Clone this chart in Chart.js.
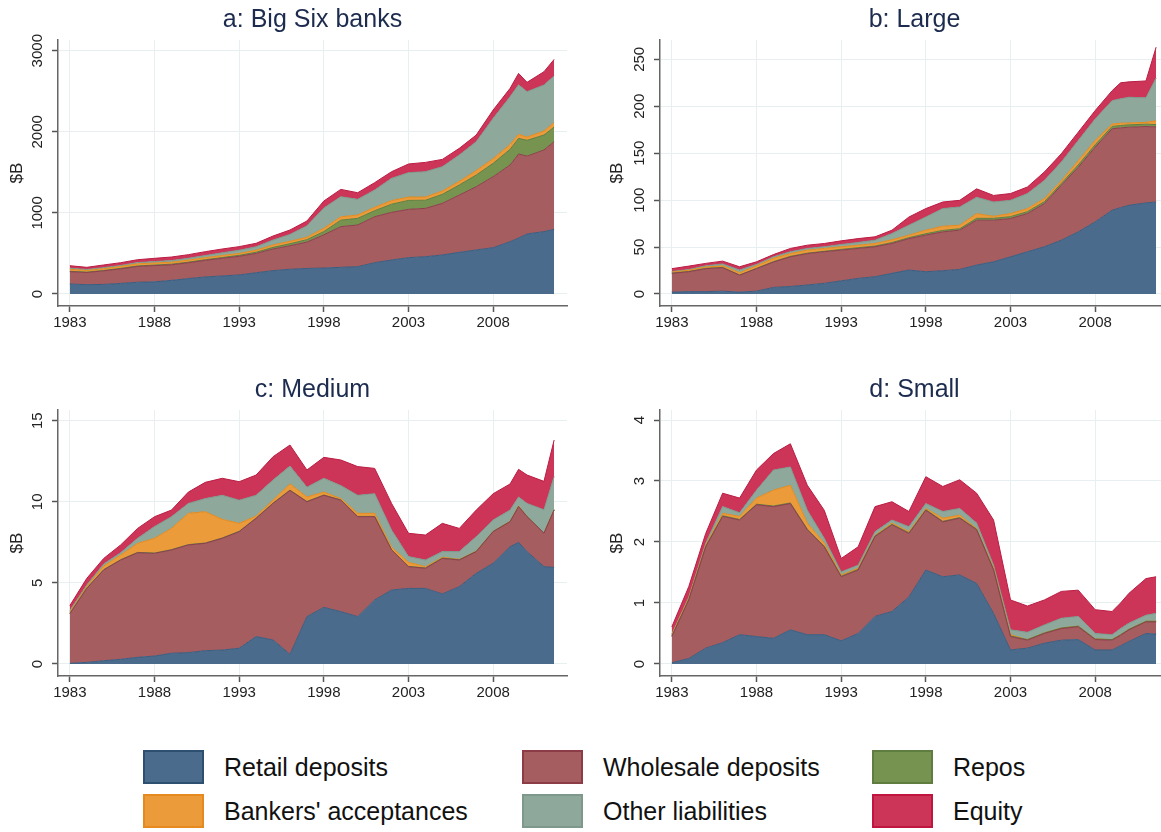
<!DOCTYPE html>
<html><head><meta charset="utf-8">
<script src="https://cdn.jsdelivr.net/npm/chart.js@4"></script>
<style>
html,body{margin:0;padding:0;background:#fff;overflow:hidden;width:1161px;height:832px;position:relative;}
canvas.panel{position:absolute;}
.item{position:absolute;display:flex;align-items:center;font-family:"Liberation Sans",Arial,sans-serif;font-size:25px;color:#111;white-space:nowrap;}
.sw{width:57px;height:30px;border:2px solid;margin-right:20px;}
</style></head>
<body>
<canvas id="pa" class="panel" width="580" height="340" style="left:0;top:0"></canvas>
<canvas id="pb" class="panel" width="600" height="340" style="left:580px;top:0"></canvas>
<canvas id="pc" class="panel" width="580" height="340" style="left:0;top:370px"></canvas>
<canvas id="pd" class="panel" width="600" height="340" style="left:580px;top:370px"></canvas>
<div id="legend"></div>
<script>
// ---- data ----
const years = [1983,1984,1985,1986,1987,1988,1989,1990,1991,1992,1993,1994,1995,1996,1997,1998,1999,2000,2001,2002,2003,2004,2005,2006,2007,2008,2009,2009.5,2010,2011,2011.6];
const xTicks = [1983,1988,1993,1998,2003,2008];
const seriesNames = ["Retail deposits","Wholesale deposits","Repos","Bankers' acceptances","Other liabilities","Equity"];

// a: Big Six banks ($B)
const aRetail    = [123,115,118,130,145,150,168,190,210,222,235,262,288,305,315,320,329,337,386,419,448,460,481,514,543,571,645,690,740,769,797];
const aWholesale = [152,150,167,180,195,200,192,195,205,218,230,238,267,290,325,410,501,514,567,588,596,596,637,707,780,876,946,1036,960,1007,1081];
const aRepos     = [5,5,5,6,6,7,8,8,8,10,12,15,20,25,30,40,80,82,74,100,110,100,111,123,144,164,193,193,195,184,180];
const aBA        = [25,20,22,24,26,25,24,25,25,25,23,25,30,30,30,40,41,41,42,45,41,40,41,45,55,58,60,50,40,50,55];
const aOther     = [13,12,13,12,16,18,20,22,27,33,40,42,60,85,140,250,249,193,213,274,301,312,300,325,356,497,589,611,560,567,575];
const aEquity    = [31,27,33,34,35,40,44,45,47,47,44,43,50,54,60,87,90,82,91,82,107,115,90,82,82,103,103,140,115,164,205];
const aYTicks = [0,1000,2000,3000];

// b: Large
const bRetail    = [2,2.5,2.5,3,2,3,7,8,9.6,11.3,14,16.6,18.4,22,25.5,23.7,24.8,26.2,30.8,34.3,39.6,45,50.3,57.3,66.2,76.8,89.2,92,94.5,97,98];
const bWholesale = [20,21.2,24.5,25,18,24,27,31.6,33.4,33.7,32.7,31.9,31.9,31.8,33.5,39,41.4,41.8,47.8,44.3,40.8,40.7,46,58.5,68.8,79.7,86.8,85,83.2,81.4,80];
const bRepos     = [0.3,0.3,0.3,0.3,0.3,0.3,0.5,0.5,0.5,0.5,0.8,0.8,0.8,1,1,1.5,1.5,1.5,2,2,2,2,2,2,2.5,2.5,2.5,2.5,2.5,2.5,2.5];
const bBA        = [1,1.3,1.5,1.7,2.4,2.7,3.5,3,3.2,3,2.8,2.7,2.7,3,2.7,3.8,4.5,3.8,5,2.2,3.3,3.3,3.3,2.7,4.5,4.5,2.5,2.5,2,2,4];
const bOther     = [0.7,0.7,1.2,2,2.8,1.5,1.6,1.9,1.8,1.8,2.4,2.9,3.5,6.6,10.6,14,18.8,19.4,17.4,15.2,14.1,16,19.4,20,21.5,23,25,26,27.4,26.1,45.5];
const bEquity    = [3,3.7,2.6,3,3.5,2.8,2.4,3.5,3.5,3.5,3.9,4.1,3.6,3.6,8.7,9,7,7.1,9,7,7.2,7,9,8.9,8.9,8.9,10.6,17,16.4,18,33];
const bYTicks = [0,50,100,150,200,250];

// c: Medium
const cRetail    = [0.04,0.1,0.2,0.29,0.41,0.49,0.66,0.7,0.82,0.86,0.97,1.69,1.48,0.6,2.92,3.49,3.23,2.92,3.95,4.56,4.66,4.66,4.32,4.77,5.59,6.21,7.23,7.5,6.93,6.0,5.96];
const cWholesale = [3.06,4.56,5.6,6.12,6.45,6.33,6.37,6.64,6.62,6.89,7.19,7.29,8.42,10.1,7.08,6.91,6.87,6.16,5.13,2.47,1.34,1.24,2.19,1.64,1.34,1.95,1.54,2.2,2.15,2.06,3.53];
const cRepos     = [0.02,0.02,0.02,0.02,0.02,0.02,0.02,0.02,0.02,0.02,0.02,0.02,0.02,0.02,0.02,0.02,0.02,0.02,0.02,0.02,0.02,0.02,0.02,0.02,0.02,0.02,0.02,0.02,0.02,0.02,0.02];
const cBA        = [0.08,0.09,0.22,0.29,0.56,0.91,1.31,1.93,1.93,1.15,0.49,0.12,0.18,0.38,0.28,0.18,0.08,0.19,0.19,0.15,0.25,0.08,0.05,0.02,0.01,0,0.01,0.03,0,0,0];
const cOther     = [0.1,0.1,0.13,0.14,0.31,0.72,0.72,0.61,0.81,1.48,1.43,1.28,1.24,1.1,0.6,0.85,0.8,1.11,1.21,1.06,0.35,0.41,0.35,0.48,0.89,0.7,0.69,0.55,0.8,1.43,2.05];
const cEquity    = [0.3,0.41,0.34,0.48,0.61,0.61,0.41,0.7,1.0,1.05,1.14,1.25,1.44,1.3,1.06,1.29,1.58,1.77,1.56,1.64,1.44,1.54,1.74,1.43,1.64,1.62,1.61,1.7,1.75,1.75,2.25];
const cYTicks = [0,5,10,15];

// d: Small
const dRetail    = [0.02,0.09,0.26,0.35,0.48,0.45,0.42,0.56,0.48,0.48,0.38,0.5,0.78,0.86,1.1,1.54,1.43,1.46,1.32,0.83,0.23,0.26,0.34,0.39,0.4,0.23,0.23,0.3,0.37,0.5,0.49];
const dWholesale = [0.43,0.96,1.66,2.07,1.88,2.16,2.16,2.07,1.72,1.44,1.05,1.04,1.31,1.42,1.04,0.98,0.9,0.93,0.88,0.71,0.22,0.13,0.16,0.19,0.21,0.17,0.16,0.17,0.19,0.19,0.2];
const dRepos     = [0.01,0.01,0.01,0.01,0.01,0.01,0.01,0.01,0.01,0.01,0.01,0.01,0.01,0.01,0.01,0.01,0.01,0.01,0.01,0.01,0.01,0.01,0.01,0.01,0.01,0.01,0.01,0.01,0.01,0.01,0.01];
const dBA        = [0.02,0.02,0.02,0.04,0.05,0.1,0.26,0.29,0.1,0.05,0.02,0.02,0.01,0.02,0.02,0.02,0.05,0.04,0.01,0.02,0.02,0,0,0,0,0,0,0,0,0,0];
const dOther     = [0.01,0.02,0.03,0.11,0.06,0.13,0.33,0.3,0.21,0.08,0.05,0.05,0.06,0.05,0.08,0.08,0.11,0.11,0.09,0.05,0.08,0.12,0.13,0.16,0.16,0.09,0.08,0.1,0.1,0.1,0.13];
const dEquity    = [0.12,0.17,0.16,0.22,0.24,0.33,0.27,0.38,0.41,0.46,0.22,0.3,0.41,0.3,0.25,0.44,0.41,0.47,0.49,0.74,0.49,0.43,0.41,0.44,0.43,0.39,0.38,0.42,0.49,0.6,0.6];
const dYTicks = [0,1,2,3,4];

// ---- styles ----
const FONT = '"Liberation Sans", Arial, sans-serif';
const fills   = ['#4a6b8c','#a55d60','#779350','#eb9b3a','#8fa89c','#cd3558'];
const lines   = ['#3b5c7e','#8c3e4b','#5f7d3e','#e08a1f','#7e978b','#b91c43'];
const legendBorders = ['#2d5070','#8b3c47','#5f7d3e','#e6891f','#7e998c','#c0153f'];

const panels = [
  {id:'pa', title:'a: Big Six banks', series:[aRetail,aWholesale,aRepos,aBA,aOther,aEquity], yTicks:aYTicks, yMin:-148, yMax:3132, padLeft:0, padRight:13},
  {id:'pb', title:'b: Large',         series:[bRetail,bWholesale,bRepos,bBA,bOther,bEquity], yTicks:bYTicks, yMin:-12.8, yMax:270.6, padLeft:20, padRight:11},
  {id:'pc', title:'c: Medium',        series:[cRetail,cWholesale,cRepos,cBA,cOther,cEquity], yTicks:cYTicks, yMin:-0.74, yMax:15.66, padLeft:0, padRight:13},
  {id:'pd', title:'d: Small',         series:[dRetail,dWholesale,dRepos,dBA,dOther,dEquity], yTicks:dYTicks, yMin:-0.197, yMax:4.164, padLeft:20, padRight:11}
];

const mctx = document.createElement('canvas').getContext('2d');
mctx.font = '15px ' + FONT;

panels.forEach(p => {
  const widest = Math.max(...p.yTicks.map(v => mctx.measureText(String(v)).width));
  const yPad = 14 - widest / 2;
  new Chart(document.getElementById(p.id), {
    type: 'line',
    data: {
      datasets: p.series.map((arr, i) => ({
        label: seriesNames[i],
        data: years.map((x, j) => ({x: x, y: arr[j]})),
        backgroundColor: fills[i],
        borderColor: lines[i],
        borderWidth: 1,
        pointRadius: 0,
        tension: 0,
        fill: i === 0 ? 'origin' : '-1'
      }))
    },
    options: {
      responsive: false,
      animation: false,
      layout: {padding: {left: p.padLeft, right: p.padRight, top: 0, bottom: 0}},
      plugins: {
        legend: {display: false},
        tooltip: {enabled: false},
        title: {display: true, text: p.title, fullSize: false, color: '#1c2b4e',
                font: {family: FONT, size: 25, weight: 'normal'}, padding: {top: 5.5, bottom: 4.5}}
      },
      scales: {
        x: {
          type: 'linear', min: 1982.3, max: 2012.36,
          afterBuildTicks: s => { s.ticks = xTicks.map(v => ({value: v})); },
          afterFit: s => { s.height = 34; },
          ticks: {color: '#222', font: {family: FONT, size: 15}, padding: 2, maxRotation: 0, autoSkip: false,
                  callback: v => String(v)},
          grid: {color: '#e8eff1', lineWidth: 1, tickLength: 6, tickColor: '#555', tickWidth: 1.5},
          border: {color: '#666', width: 1.5}
        },
        y: {
          stacked: true, min: p.yMin, max: p.yMax,
          afterBuildTicks: s => { s.ticks = p.yTicks.map(v => ({value: v})); },
          afterFit: s => { s.width = p.padLeft ? 60 : 58; },
          ticks: {color: '#222', font: {family: FONT, size: 15}, minRotation: 90, maxRotation: 90,
                  crossAlign: 'center', padding: yPad, autoSkip: false, callback: v => String(v)},
          grid: {color: '#e8eff1', lineWidth: 1, tickLength: 6, tickColor: '#555', tickWidth: 1.5},
          border: {color: '#666', width: 1.5},
          title: {display: true, text: '$B', color: '#222', font: {family: FONT, size: 17}, padding: {top: 7, bottom: 0}}
        }
      }
    }
  });
});

// ---- legend ----
const legendCols = [143, 522, 872];
const legendRows = [750, 794];
const lg = document.getElementById('legend');
seriesNames.forEach((name, i) => {
  const it = document.createElement('div');
  it.className = 'item';
  it.style.left = legendCols[i % 3] + 'px';
  it.style.top = legendRows[Math.floor(i / 3)] + 'px';
  const sw = document.createElement('div');
  sw.className = 'sw';
  sw.style.background = fills[i];
  sw.style.borderColor = legendBorders[i];
  const tx = document.createElement('span');
  tx.textContent = name;
  it.appendChild(sw); it.appendChild(tx);
  lg.appendChild(it);
});
</script>
</body></html>
